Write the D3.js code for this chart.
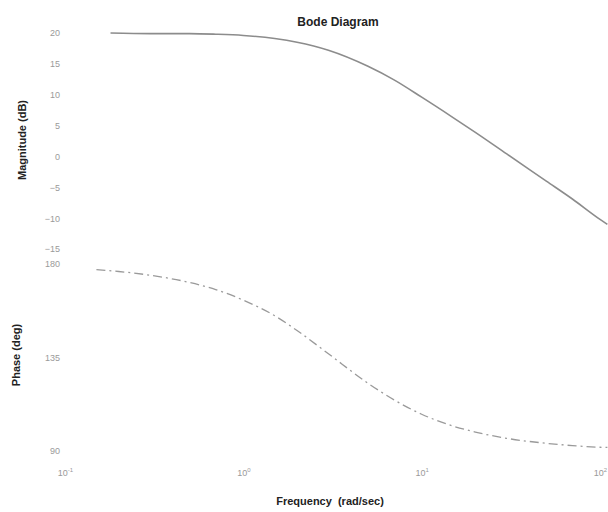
<!DOCTYPE html>
<html>
<head>
<meta charset="utf-8">
<script src="https://cdn.jsdelivr.net/npm/d3@7"></script>
<style>
  body { margin: 0; background: #fff; }
  svg { font-family: "Liberation Sans", Arial, sans-serif; }
</style>
</head>
<body>
<svg id="chart"></svg>
<script>
// values
const magFreq   = [0.18, 0.3, 0.5, 0.7, 1, 1.5, 2, 3, 5, 7, 10, 15, 20, 30, 50, 70, 100, 110];
const magnitude = [20.0, 19.9, 19.9, 19.8, 19.6, 19.1, 18.5, 17.2, 14.6, 12.4, 9.6, 6.3, 3.9, 0.4, -4.0, -6.9, -10.2, -11.0];
const phFreq    = [0.15, 0.2, 0.3, 0.5, 0.7, 1, 1.5, 2, 3, 5, 7, 10, 15, 20, 30, 50, 70, 100, 110];
const phase     = [177.3, 176.4, 174.6, 171.1, 167.7, 162.6, 155.1, 148.0, 136.8, 122.6, 114.6, 107.7, 102.0, 99.1, 96.1, 93.7, 92.6, 91.8, 91.7];
const magTicks   = [20, 15, 10, 5, 0, -5, -10, -15];
const phaseTicks = [180, 135, 90];
const freqTicks  = [0.1, 1, 10, 100];

const W = 608, H = 512;
const svg = d3.select("#chart").attr("width", W).attr("height", H);

const x = d3.scaleLog().domain([0.1, 100]).range([65, 600]);
const yMag = d3.scaleLinear().domain([-15, 20]).range([249, 33]);
const yPh = d3.scaleLinear().domain([90, 180]).range([451, 264]);

const magData = magFreq.map((f, i) => ({ f, v: magnitude[i] }));
const phData = phFreq.map((f, i) => ({ f, v: phase[i] }));

// axes: only labels visible, like the faded scan
const styleAxis = g => {
    g.select(".domain").remove();
    g.selectAll(".tick line").remove();
    g.selectAll("text").attr("fill", "#9a9a9a").style("font-size", "9px");
};

svg.append("g")
    .attr("transform", "translate(62,0)")
    .call(d3.axisLeft(yMag).tickValues(magTicks).tickSize(0).tickPadding(2))
    .call(styleAxis);

svg.append("g")
    .attr("transform", "translate(62,0)")
    .call(d3.axisLeft(yPh).tickValues(phaseTicks).tickSize(0).tickPadding(2))
    .call(styleAxis);

const sup = { "0.1": "-1", "1": "0", "10": "1", "100": "2" };
const xAxis = svg.append("g")
    .attr("transform", "translate(0,464)")
    .call(d3.axisBottom(x).tickValues(freqTicks).tickSize(0).tickFormat(() => ""))
    .call(styleAxis);
xAxis.selectAll(".tick").each(function(d) {
    const t = d3.select(this).append("text")
        .attr("y", 12)
        .attr("text-anchor", "middle")
        .attr("fill", "#9a9a9a")
        .style("font-size", "9px");
    t.append("tspan").text("10");
    t.append("tspan").attr("dy", -4).style("font-size", "6px").text(sup[String(d)]);
});

const line = yScale => d3.line()
    .x(d => x(d.f))
    .y(d => yScale(d.v))
    .curve(d3.curveMonotoneX);

svg.append("path")
    .datum(magData)
    .attr("fill", "none")
    .attr("stroke", "#8c8c8c")
    .attr("stroke-width", 1.6)
    .attr("d", line(yMag));

svg.append("path")
    .datum(phData)
    .attr("fill", "none")
    .attr("stroke", "#9a9a9a")
    .attr("stroke-width", 1.3)
    .attr("stroke-dasharray", "9,4,2,4")
    .attr("d", line(yPh));

svg.append("text")
    .attr("x", 338)
    .attr("y", 26)
    .attr("text-anchor", "middle")
    .style("font-size", "12px")
    .style("font-weight", "bold")
    .attr("fill", "#222")
    .text("Bode Diagram");

svg.append("text")
    .attr("transform", "translate(26,140) rotate(-90)")
    .attr("text-anchor", "middle")
    .style("font-size", "11px")
    .style("font-weight", "bold")
    .attr("fill", "#222")
    .text("Magnitude (dB)");

svg.append("text")
    .attr("transform", "translate(20,355) rotate(-90)")
    .attr("text-anchor", "middle")
    .style("font-size", "11px")
    .style("font-weight", "bold")
    .attr("fill", "#222")
    .text("Phase (deg)");

svg.append("text")
    .attr("x", 330)
    .attr("y", 505)
    .attr("text-anchor", "middle")
    .style("font-size", "11px")
    .style("font-weight", "bold")
    .attr("fill", "#222")
    .attr("xml:space", "preserve")
    .text("Frequency  (rad/sec)");
</script>
</body>
</html>
